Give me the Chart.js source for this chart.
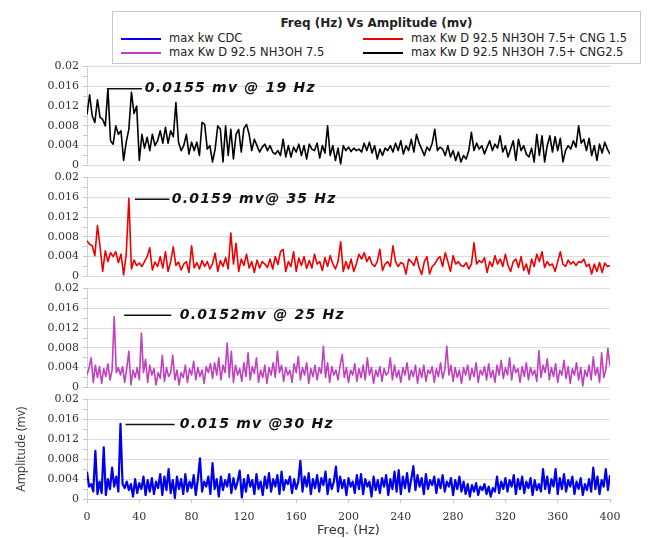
<!DOCTYPE html>
<html>
<head>
<meta charset="utf-8">
<script src="https://cdn.jsdelivr.net/npm/chart.js@4.4.1/dist/chart.umd.min.js"></script>
<style>
  body { margin: 0; background: #fff; }
  #wrap { position: relative; width: 669px; height: 538px; overflow: hidden; }
  #wrap canvas { position: absolute; left: 0; }
  #legend { position: absolute; left: 112px; top: 11px; width: 527px; height: 51px; border: 1px solid #c8c8c8;
            background: #fff; font-family: "DejaVu Sans", Verdana, sans-serif; font-size: 11.5px; color: #222; z-index: 2; }
  #legend .ttl { position: absolute; left: 0; right: 0; top: 4px; text-align: center; font-weight: bold; font-size: 12px; }
  #legend .item { position: absolute; white-space: nowrap; line-height: 13px; }
  #legend .item i { display: inline-block; width: 40px; height: 2px; vertical-align: middle; margin-right: 8px; }
</style>
</head>
<body>
<div id="wrap">
  <div id="legend"><div class="ttl">Freq (Hz) Vs Amplitude (mv)</div></div>
  <canvas id="p1" width="669" height="120" style="top:56px"></canvas>
  <canvas id="p2" width="669" height="120" style="top:167px"></canvas>
  <canvas id="p3" width="669" height="120" style="top:278px"></canvas>
  <canvas id="p4" width="669" height="149" style="top:389px"></canvas>
</div>
<script>
// legend entries (order as in the legend box)
const seriesNames = ['max kw CDC', 'max Kw D 92.5 NH3OH 7.5+ CNG 1.5', 'max Kw D 92.5 NH3OH 7.5', 'max Kw D 92.5 NH3OH 7.5+ CNG2.5'];
const seriesColors = ['#0000ee', '#ee0000', '#c040c0', '#000000'];

const yTickLabels = ['0', '0.004', '0.008', '0.012', '0.016', '0.02'];

// bin width in Hz for each group of spectra
const binWidthA = 2;    // CNG2.5, CNG 1.5
const binWidthB = 1.6;  // NH3OH 7.5, CDC

// max Kw D 92.5 NH3OH 7.5+ CNG2.5 (mv)
const ampCng25 = [
  0.0103, 0.0143, 0.0100, 0.0087, 0.0133, 0.0097, 0.0093, 0.0080, 0.0155, 0.0050,
  0.0043, 0.0080, 0.0063, 0.0070, 0.0010, 0.0047, 0.0073, 0.0148, 0.0105, 0.0120,
  0.0010, 0.0063, 0.0035, 0.0057, 0.0030, 0.0063, 0.0040, 0.0050, 0.0070, 0.0045,
  0.0077, 0.0045, 0.0070, 0.0058, 0.0127, 0.0047, 0.0030, 0.0040, 0.0063, 0.0023,
  0.0047, 0.0030, 0.0047, 0.0020, 0.0087, 0.0083, 0.0033, 0.0040, 0.0007, 0.0033,
  0.0080, 0.0073, 0.0007, 0.0080, 0.0020, 0.0073, 0.0013, 0.0063, 0.0073, 0.0027,
  0.0075, 0.0083, 0.0063, 0.0030, 0.0053, 0.0040, 0.0027, 0.0037, 0.0043, 0.0030,
  0.0040, 0.0027, 0.0023, 0.0030, 0.0020, 0.0053, 0.0017, 0.0040, 0.0017, 0.0037,
  0.0027, 0.0043, 0.0020, 0.0040, 0.0013, 0.0043, 0.0033, 0.0030, 0.0045, 0.0015,
  0.0040, 0.0025, 0.0080, 0.0020, 0.0040, 0.0010, 0.0035, 0.0003, 0.0040, 0.0030,
  0.0037, 0.0028, 0.0035, 0.0030, 0.0033, 0.0027, 0.0045, 0.0030, 0.0047, 0.0025,
  0.0040, 0.0013, 0.0033, 0.0020, 0.0035, 0.0030, 0.0040, 0.0027, 0.0045, 0.0030,
  0.0050, 0.0023, 0.0040, 0.0030, 0.0053, 0.0027, 0.0063, 0.0045, 0.0033, 0.0020,
  0.0037, 0.0030, 0.0045, 0.0073, 0.0030, 0.0037, 0.0033, 0.0020, 0.0040, 0.0017,
  0.0030, 0.0010, 0.0027, 0.0007, 0.0020, 0.0013, 0.0030, 0.0067, 0.0030, 0.0045,
  0.0033, 0.0040, 0.0023, 0.0037, 0.0050, 0.0030, 0.0043, 0.0035, 0.0060, 0.0027,
  0.0040, 0.0017, 0.0033, 0.0050, 0.0010, 0.0053, 0.0030, 0.0040, 0.0023, 0.0017,
  0.0035, 0.0007, 0.0063, 0.0020, 0.0060, 0.0007, 0.0040, 0.0060, 0.0027, 0.0058,
  0.0030, 0.0055, 0.0007, 0.0030, 0.0040, 0.0033, 0.0050, 0.0037, 0.0080, 0.0045,
  0.0053, 0.0030, 0.0055, 0.0020, 0.0040, 0.0010, 0.0043, 0.0025, 0.0047, 0.0033,
  0.0023
];

// max Kw D 92.5 NH3OH 7.5+ CNG 1.5 (mv)
const ampCng15 = [
  0.0072, 0.0065, 0.0062, 0.0042, 0.0103, 0.0060, 0.0010, 0.0052, 0.0030, 0.0048,
  0.0040, 0.0050, 0.0028, 0.0045, 0.0003, 0.0045, 0.0158, 0.0015, 0.0033, 0.0022,
  0.0027, 0.0020, 0.0030, 0.0040, 0.0058, 0.0013, 0.0029, 0.0020, 0.0040, 0.0017,
  0.0050, 0.0010, 0.0030, 0.0060, 0.0022, 0.0029, 0.0013, 0.0025, 0.0030, 0.0008,
  0.0062, 0.0017, 0.0028, 0.0015, 0.0032, 0.0020, 0.0030, 0.0015, 0.0026, 0.0047,
  0.0010, 0.0032, 0.0020, 0.0038, 0.0015, 0.0088, 0.0025, 0.0067, 0.0010, 0.0035,
  0.0022, 0.0045, 0.0017, 0.0030, 0.0008, 0.0033, 0.0017, 0.0030, 0.0025, 0.0018,
  0.0035, 0.0015, 0.0040, 0.0024, 0.0050, 0.0055, 0.0010, 0.0030, 0.0020, 0.0050,
  0.0010, 0.0037, 0.0022, 0.0040, 0.0016, 0.0032, 0.0017, 0.0045, 0.0025, 0.0030,
  0.0012, 0.0038, 0.0020, 0.0042, 0.0026, 0.0015, 0.0030, 0.0070, 0.0010, 0.0030,
  0.0015, 0.0035, 0.0010, 0.0025, 0.0045, 0.0035, 0.0048, 0.0030, 0.0040, 0.0025,
  0.0020, 0.0030, 0.0055, 0.0012, 0.0025, 0.0030, 0.0020, 0.0062, 0.0030, 0.0020,
  0.0028, 0.0025, 0.0005, 0.0035, 0.0030, 0.0022, 0.0040, 0.0018, 0.0004, 0.0030,
  0.0040, 0.0005, 0.0020, 0.0025, 0.0035, 0.0040, 0.0020, 0.0048, 0.0030, 0.0010,
  0.0042, 0.0025, 0.0030, 0.0022, 0.0020, 0.0028, 0.0015, 0.0025, 0.0068, 0.0025,
  0.0032, 0.0028, 0.0038, 0.0008, 0.0030, 0.0020, 0.0042, 0.0025, 0.0035, 0.0020,
  0.0045, 0.0022, 0.0010, 0.0030, 0.0035, 0.0018, 0.0040, 0.0012, 0.0025, 0.0005,
  0.0035, 0.0020, 0.0045, 0.0030, 0.0050, 0.0018, 0.0030, 0.0022, 0.0025, 0.0010,
  0.0030, 0.0050, 0.0025, 0.0020, 0.0033, 0.0025, 0.0030, 0.0022, 0.0030, 0.0028,
  0.0035, 0.0020, 0.0025, 0.0005, 0.0025, 0.0010, 0.0028, 0.0008, 0.0027, 0.0020,
  0.0022
];

// max Kw D 92.5 NH3OH 7.5 (mv)
const ampNh3oh = [
  0.0025, 0.0040, 0.0060, 0.0010, 0.0045, 0.0020, 0.0042, 0.0008, 0.0038, 0.0022,
  0.0048, 0.0015, 0.0035, 0.0143, 0.0030, 0.0040, 0.0025, 0.0042, 0.0010, 0.0038,
  0.0073, 0.0005, 0.0035, 0.0020, 0.0040, 0.0015, 0.0110, 0.0030, 0.0057, 0.0010,
  0.0045, 0.0025, 0.0038, 0.0005, 0.0030, 0.0018, 0.0065, 0.0012, 0.0040, 0.0022,
  0.0030, 0.0065, 0.0015, 0.0035, 0.0005, 0.0030, 0.0020, 0.0045, 0.0010, 0.0038,
  0.0025, 0.0053, 0.0015, 0.0040, 0.0022, 0.0035, 0.0008, 0.0042, 0.0030, 0.0048,
  0.0018, 0.0050, 0.0025, 0.0060, 0.0015, 0.0045, 0.0030, 0.0090, 0.0020, 0.0073,
  0.0010, 0.0045, 0.0025, 0.0038, 0.0012, 0.0050, 0.0022, 0.0070, 0.0015, 0.0042,
  0.0028, 0.0060, 0.0010, 0.0035, 0.0020, 0.0045, 0.0008, 0.0040, 0.0025, 0.0050,
  0.0020, 0.0073, 0.0030, 0.0045, 0.0012, 0.0040, 0.0025, 0.0035, 0.0010, 0.0048,
  0.0030, 0.0063, 0.0015, 0.0040, 0.0025, 0.0050, 0.0008, 0.0038, 0.0022, 0.0045,
  0.0015, 0.0040, 0.0028, 0.0083, 0.0020, 0.0050, 0.0010, 0.0042, 0.0025, 0.0035,
  0.0015, 0.0045, 0.0067, 0.0020, 0.0040, 0.0010, 0.0035, 0.0025, 0.0048, 0.0012,
  0.0038, 0.0020, 0.0045, 0.0015, 0.0060, 0.0025, 0.0040, 0.0008, 0.0035, 0.0022,
  0.0042, 0.0012, 0.0038, 0.0025, 0.0030, 0.0060, 0.0015, 0.0045, 0.0020, 0.0035,
  0.0010, 0.0040, 0.0025, 0.0050, 0.0015, 0.0035, 0.0022, 0.0045, 0.0008, 0.0038,
  0.0020, 0.0045, 0.0012, 0.0035, 0.0028, 0.0042, 0.0010, 0.0038, 0.0022, 0.0050,
  0.0018, 0.0035, 0.0083, 0.0025, 0.0045, 0.0012, 0.0040, 0.0020, 0.0035, 0.0008,
  0.0040, 0.0025, 0.0045, 0.0015, 0.0038, 0.0022, 0.0050, 0.0010, 0.0035, 0.0025,
  0.0042, 0.0015, 0.0048, 0.0020, 0.0035, 0.0010, 0.0045, 0.0025, 0.0055, 0.0018,
  0.0040, 0.0025, 0.0060, 0.0015, 0.0045, 0.0030, 0.0038, 0.0010, 0.0042, 0.0022,
  0.0050, 0.0015, 0.0040, 0.0025, 0.0035, 0.0012, 0.0074, 0.0020, 0.0045, 0.0030,
  0.0058, 0.0015, 0.0040, 0.0022, 0.0048, 0.0010, 0.0035, 0.0025, 0.0055, 0.0018,
  0.0042, 0.0008, 0.0038, 0.0025, 0.0050, 0.0015, 0.0040, 0.0003, 0.0035, 0.0022,
  0.0045, 0.0015, 0.0062, 0.0025, 0.0040, 0.0010, 0.0070, 0.0020, 0.0035, 0.0079,
  0.0043
];

// max kw CDC (mv)
const ampCdc = [
  0.0055, 0.0025, 0.0030, 0.0015, 0.0097, 0.0010, 0.0035, 0.0012, 0.0104, 0.0008,
  0.0040, 0.0020, 0.0063, 0.0025, 0.0045, 0.0015, 0.0151, 0.0030, 0.0022, 0.0035,
  0.0018, 0.0030, 0.0005, 0.0040, 0.0012, 0.0032, 0.0020, 0.0045, 0.0008, 0.0038,
  0.0015, 0.0042, 0.0010, 0.0035, 0.0022, 0.0050, 0.0008, 0.0045, 0.0018, 0.0060,
  0.0012, 0.0038, 0.0002, 0.0045, 0.0020, 0.0040, 0.0010, 0.0050, 0.0015, 0.0035,
  0.0022, 0.0048, 0.0008, 0.0040, 0.0082, 0.0015, 0.0035, 0.0025, 0.0045, 0.0010,
  0.0072, 0.0020, 0.0040, 0.0005, 0.0045, 0.0018, 0.0038, 0.0025, 0.0050, 0.0012,
  0.0042, 0.0020, 0.0035, 0.0057, 0.0003, 0.0040, 0.0015, 0.0048, 0.0025, 0.0038,
  0.0010, 0.0050, 0.0020, 0.0035, 0.0008, 0.0045, 0.0022, 0.0052, 0.0015, 0.0040,
  0.0025, 0.0048, 0.0010, 0.0055, 0.0018, 0.0038, 0.0030, 0.0045, 0.0012, 0.0040,
  0.0020, 0.0035, 0.0077, 0.0015, 0.0045, 0.0025, 0.0052, 0.0010, 0.0040, 0.0022,
  0.0048, 0.0015, 0.0042, 0.0028, 0.0055, 0.0010, 0.0040, 0.0020, 0.0035, 0.0065,
  0.0015, 0.0045, 0.0022, 0.0038, 0.0008, 0.0042, 0.0025, 0.0035, 0.0012, 0.0048,
  0.0020, 0.0050, 0.0010, 0.0040, 0.0025, 0.0035, 0.0005, 0.0045, 0.0018, 0.0038,
  0.0012, 0.0042, 0.0025, 0.0048, 0.0008, 0.0040, 0.0020, 0.0055, 0.0015, 0.0058,
  0.0010, 0.0045, 0.0022, 0.0052, 0.0015, 0.0040, 0.0066, 0.0018, 0.0048, 0.0025,
  0.0042, 0.0010, 0.0050, 0.0020, 0.0038, 0.0028, 0.0045, 0.0012, 0.0040, 0.0022,
  0.0048, 0.0015, 0.0035, 0.0025, 0.0042, 0.0008, 0.0038, 0.0020, 0.0045, 0.0015,
  0.0035, 0.0010, 0.0030, 0.0005, 0.0028, 0.0015, 0.0032, 0.0008, 0.0025, 0.0018,
  0.0030, 0.0010, 0.0025, 0.0005, 0.0022, 0.0015, 0.0045, 0.0012, 0.0035, 0.0020,
  0.0042, 0.0015, 0.0038, 0.0025, 0.0048, 0.0010, 0.0040, 0.0020, 0.0045, 0.0012,
  0.0035, 0.0022, 0.0042, 0.0008, 0.0038, 0.0018, 0.0030, 0.0015, 0.0060, 0.0020,
  0.0045, 0.0012, 0.0040, 0.0025, 0.0060, 0.0010, 0.0042, 0.0020, 0.0050, 0.0015,
  0.0038, 0.0025, 0.0045, 0.0010, 0.0035, 0.0020, 0.0042, 0.0008, 0.0030, 0.0018,
  0.0040, 0.0015, 0.0063, 0.0020, 0.0045, 0.0010, 0.0038, 0.0025, 0.0060, 0.0018,
  0.0048
];

// FFT bin frequencies
const freqsA = ampCng25.map((v, i) => i * binWidthA);
const freqsB = ampCdc.map((v, i) => i * binWidthB);

// legend box
const legendBox = document.getElementById('legend');
const legendSpots = [[8, 20], [250, 20], [8, 34], [250, 34]];
seriesNames.forEach((name, i) => {
    const item = document.createElement('div');
    item.className = 'item';
    item.style.left = legendSpots[i][0] + 'px';
    item.style.top = legendSpots[i][1] + 'px';
    item.innerHTML = '<i style="background:' + seriesColors[i] + '"></i>' + name;
    legendBox.appendChild(item);
});

// leader line + label for the main peak of each panel
const peakNote = {
    id: 'peakNote',
    afterDatasetsDraw(chart, args, opts) {
        if (!opts || !opts.text) return;
        const ctx = chart.ctx;
        const x = chart.scales.x;
        const y = chart.scales.y;
        const yy = y.getPixelForValue(opts.amp);
        ctx.save();
        ctx.strokeStyle = '#111';
        ctx.lineWidth = 1.5;
        ctx.beginPath();
        ctx.moveTo(x.getPixelForValue(opts.from), yy);
        ctx.lineTo(x.getPixelForValue(opts.to), yy);
        ctx.stroke();
        ctx.font = 'italic bold 14px "DejaVu Sans", Verdana, sans-serif';
        ctx.letterSpacing = '1.2px';
        ctx.fillStyle = '#111';
        ctx.textBaseline = 'middle';
        ctx.fillText(opts.text, x.getPixelForValue(opts.textAt), yy);
        ctx.restore();
    }
};

const tickFont = { family: '"DejaVu Serif", serif', size: 11 };

function makePanel(id, freqs, amps, color, width, note, isBottom) {
    const ctx = document.getElementById(id).getContext('2d');
    return new Chart(ctx, {
        type: 'line',
        data: {
            labels: freqs,
            datasets: [{
                data: amps,
                borderColor: color,
                borderWidth: width,
                borderJoinStyle: 'round',
                pointRadius: 0,
                tension: 0,
                fill: false
            }]
        },
        options: {
            responsive: false,
            animation: false,
            layout: { padding: { top: 10, right: 59, bottom: isBottom ? 0 : 10, left: 0 } },
            plugins: {
                legend: { display: false },
                tooltip: { enabled: false },
                peakNote: note
            },
            scales: {
                x: {
                    type: 'linear',
                    min: 0,
                    max: 400,
                    display: isBottom,
                    grid: { drawOnChartArea: false, tickLength: 4, color: '#c8c8c8' },
                    border: { color: '#c8c8c8' },
                    ticks: { stepSize: 40, padding: 8, color: '#333', font: tickFont, maxRotation: 0 },
                    title: {
                        display: true,
                        text: 'Freq. (Hz)',
                        color: '#333',
                        font: { family: '"DejaVu Sans", sans-serif', size: 13 },
                        padding: { top: 0, bottom: 0 }
                    },
                    afterFit: (s) => { if (isBottom) s.height = 39; }
                },
                y: {
                    min: 0,
                    max: 0.02,
                    grid: {
                        color: (c) => (c.tick && Math.round(c.tick.value * 1000) % 4 === 0) ? '#dcdcdc' : 'rgba(0,0,0,0)',
                        tickColor: '#c8c8c8',
                        tickLength: 4
                    },
                    border: { color: '#d0d0d0' },
                    ticks: {
                        stepSize: 0.002,
                        autoSkip: false,
                        padding: 4,
                        color: '#333',
                        font: tickFont,
                        callback: (v) => {
                            const k = Math.round(v * 1000);
                            return k % 4 === 0 ? yTickLabels[k / 4] : '';
                        }
                    },
                    title: {
                        display: isBottom,
                        text: 'Amplitude (mv)',
                        color: '#333',
                        font: { family: '"Open Sans", sans-serif', size: 12 },
                        padding: { top: 14, bottom: 0 }
                    },
                    afterFit: (s) => { s.width = 87; }
                }
            }
        },
        plugins: [peakNote]
    });
}

makePanel('p1', freqsA, ampCng25, seriesColors[3], 1.6,
    { text: '0.0155 mv @ 19 Hz', amp: 0.0155, from: 15.2, to: 42, textAt: 44.2 }, false);
makePanel('p2', freqsA, ampCng15, seriesColors[1], 1.6,
    { text: '0.0159 mv@ 35 Hz', amp: 0.0156, from: 36.6, to: 63, textAt: 64.8 }, false);
makePanel('p3', freqsB, ampNh3oh, seriesColors[2], 1.6,
    { text: '0.0152mv @ 25 Hz', amp: 0.0146, from: 28.4, to: 64.5, textAt: 71 }, false);
makePanel('p4', freqsB, ampCdc, seriesColors[0], 2.2,
    { text: '0.015 mv @30 Hz', amp: 0.015, from: 29.5, to: 67, textAt: 71 }, true);
</script>
</body>
</html>
